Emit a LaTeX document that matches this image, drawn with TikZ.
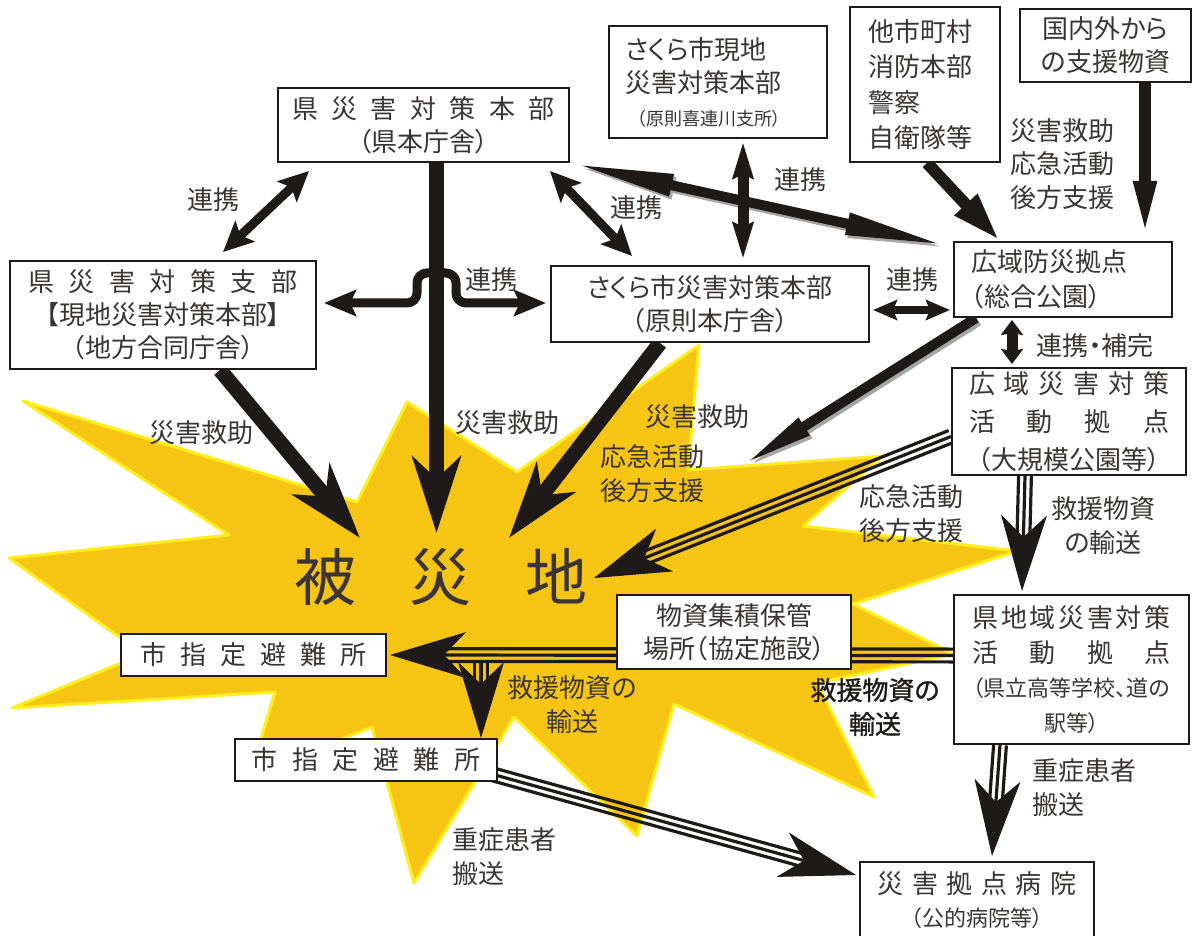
\documentclass[tikz,border=0pt]{standalone}
\usepackage{fontspec}
\setmainfont{Noto Sans CJK JP}[RawFeature=+palt]
\newfontfamily\heavyjp{Noto Sans CJK JP}[RawFeature=+palt,FakeBold=1.2]
\usetikzlibrary{arrows.meta}
\usetikzlibrary{calc}
\definecolor{burst}{RGB}{246,197,20}
\definecolor{burstrim}{RGB}{255,238,30}
\definecolor{ink}{RGB}{30,26,26}
\definecolor{letter}{RGB}{58,52,52}
\pgfdeclarelayer{burstlayer}
\pgfdeclarelayer{linelayer}
\pgfsetlayers{burstlayer,linelayer,main}

% three thin strokes and one head
\newcommand{\tripleto}[2]{%
  \draw[tri line] ($(#1)!3.2pt!90:(#2)$) -- ($(#2)!3.2pt!-90:(#1)$);
  \draw[tri line] (#1) -- (#2);
  \draw[tri line] ($(#1)!3.2pt!-90:(#2)$) -- ($(#2)!3.2pt!90:(#1)$);
  \draw[tri head] ($(#2)!30pt!(#1)$) -- (#2);
}

\begin{document}
\begin{tikzpicture}[
    x=0.5pt, y=-0.5pt,
    box/.style={draw=ink, line width=1pt, fill=white, inner sep=0pt, align=center, text=letter,
                font=\fontsize{13pt}{16.5pt}\selectfont},
    lbl/.style={inner sep=0pt, align=center, text=letter, font=\fontsize{13pt}{17pt}\selectfont},
    big arrow/.style={draw=ink, line width=7.5pt, -{Stealth[length=38pt,width=24pt,inset=11pt]}},
    link/.style={draw=ink, line width=4.5pt,
                 {Stealth[length=15pt,width=14pt,inset=3pt]}-{Stealth[length=15pt,width=14pt,inset=3pt]}},
    tri line/.style={draw=ink, line width=1.6pt, shorten >=18pt},
    tri head/.style={draw=ink, line width=0.5pt, -{Stealth[length=38pt,width=23pt,inset=11pt]}},
    slim/.style={draw=ink, line width=5pt, {Triangle[length=52pt,width=10pt]}-{Triangle[length=52pt,width=10pt]}},
    drop/.style={draw=black!35, transform canvas={xshift=1.2pt,yshift=-1.5pt}}
  ]
\useasboundingbox (0,0) rectangle (1194,936);

% boxes
\node[box, minimum width=145.5pt, minimum height=37pt] (honbu) at (423.5,125)
  {\makebox[131.5pt]{県\hfill 災\hfill 害\hfill 対\hfill 策\hfill 本\hfill 部}\\（県本庁舎）};
\node[box, minimum width=153pt, minimum height=54pt] (shibu) at (163,315)
  {\makebox[134.5pt]{県\hfill 災\hfill 害\hfill 対\hfill 策\hfill 支\hfill 部}\\【現地災害対策本部】\\（地方合同庁舎）};
\node[box, minimum width=159pt, minimum height=38pt] (sakura) at (710,304)
  {さくら市災害対策本部\\（原則本庁舎）};
\node[box, minimum width=109pt, minimum height=56pt, text width=93pt, align=left] (genchi) at (718,82)
  {さくら市現地\\災害対策本部\\{\fontsize{9pt}{11pt}\selectfont\hspace{6pt}（原則喜連川支所）}};
\node[box, minimum width=75pt, minimum height=77.5pt, text width=57pt, align=left,
      font=\fontsize{13pt}{17.8pt}\selectfont] (tashi) at (925,84.5)
  {他市町村\\消防本部\\警察\\自衛隊等};
\node[box, minimum width=85.5pt, minimum height=36.5pt] (kokunai) at (1105.5,45.5)
  {国内外から\\の支援物資};
\node[box, minimum width=109pt, minimum height=37.5pt, text width=92pt, align=left,
      font=\fontsize{13pt}{17.5pt}\selectfont] (koiki) at (1063,279.5)
  {広域防災拠点\\（総合公園）};
\node[box, minimum width=117pt, minimum height=53.5pt, font=\fontsize{13pt}{19pt}\selectfont] (ksaigai) at (1069,421.5)
  {\makebox[100pt]{広\hfill 域\hfill 災\hfill 害\hfill 対\hfill 策}\\
   \makebox[100pt]{活\hfill 動\hfill 拠\hfill 点}\\（大規模公園等）};
\node[box, minimum width=117.5pt, minimum height=74.5pt, font=\fontsize{13pt}{17.3pt}\selectfont] (kenchi) at (1071.5,669.5)
  {\makebox[99pt]{県\hfill 地\hfill 域\hfill 災\hfill 害\hfill 対\hfill 策}\\
   \makebox[99pt]{活\hfill 動\hfill 拠\hfill 点}\\
   {\fontsize{11pt}{17.3pt}\selectfont （県立高等学校、道の}\\
   {\fontsize{11pt}{17.3pt}\selectfont 駅等）}};
\node[box, minimum width=117pt, minimum height=37pt] (busshi) at (734,632)
  {物資集積保管\\場所（協定施設）};
\node[box, minimum width=132.5pt, minimum height=21pt] (hinan1) at (253.5,655)
  {\makebox[113.5pt]{市\hfill 指\hfill 定\hfill 避\hfill 難\hfill 所}};
\node[box, minimum width=131pt, minimum height=21pt] (hinan2) at (366,760)
  {\makebox[114.5pt]{市\hfill 指\hfill 定\hfill 避\hfill 難\hfill 所}};
\node[box, minimum width=117pt, minimum height=38pt] (byoin) at (977,900)
  {\makebox[99.5pt]{災\hfill 害\hfill 拠\hfill 点\hfill 病\hfill 院}\\{\fontsize{11pt}{16.5pt}\selectfont （公的病院等）}};

% the stricken area
\node[inner sep=0pt, text=letter, font=\fontsize{31pt}{31pt}\selectfont] (hisai) at (441,577)
  {\makebox[147pt]{被\hfill 災\hfill 地}};

% labels
\node[lbl] (lk1) at (213,200) {連携};
\node[lbl] (lk2) at (491,280) {連携};
\node[lbl] (lk3) at (636,208) {連携};
\node[lbl] (lk4) at (800,180) {連携};
\node[lbl] (lk5) at (912,280) {連携};
\node[lbl] (lk6) at (1095,346) {連携・補完};
\node[lbl, font=\fontsize{13pt}{16.8pt}\selectfont] (sup1) at (1062,164) {災害救助\\応急活動\\後方支援};
\node[lbl] (rs1) at (201,433) {災害救助};
\node[lbl] (rs2) at (507,423) {災害救助};
\node[lbl] (rs3) at (697,417) {災害救助};
\node[lbl] (sup2) at (652,474) {応急活動\\後方支援};
\node[lbl] (sup3) at (911,514) {応急活動\\後方支援};
\node[lbl] (tr1) at (1103,526) {救援物資\\の輸送};
\node[lbl, text=ink, font=\heavyjp\fontsize{13pt}{17pt}\selectfont] (tr2) at (875,707) {救援物資の\\輸送};
\node[lbl] (tr3) at (572,705) {救援物資の\\輸送};
\node[lbl, anchor=west, align=left] (pt1) at (1032,788) {重症患者\\搬送};
\node[lbl, anchor=west, align=left] (pt2) at (452,857) {重症患者\\搬送};

% free ends inside the area
\coordinate (hitA) at (360,538);
\coordinate (hitB) at (436.5,533);
\coordinate (hitC) at (509,538);
\coordinate (hitD) at (740,467);
\coordinate (hitE) at (594,578);
\coordinate (fork) at (481,662);

\coordinate (s1) at ([shift={(0,15)}]ksaigai.west);
\coordinate (s2) at ([shift={(-44,0)}]ksaigai.south);
\coordinate (e2) at ([shift={(-49.5,-3)}]kenchi.north);
\coordinate (s3) at ([shift={(-71.5,0)}]kenchi.south);
\coordinate (e3) at ([shift={(15,-5)}]byoin.north);
\coordinate (s4) at ([shift={(0,-14)}]kenchi.west);
\coordinate (e4) at ([shift={(3,0)}]hinan1.east);
\coordinate (e5) at ([shift={(115,0)}]hinan2.north);
\coordinate (s6) at ([shift={(-10,-9)}]hinan2.south east);
\coordinate (e6) at ([shift={(-3,-25)}]byoin.west);

\begin{pgfonlayer}{burstlayer}
\filldraw[fill=burst, draw=burstrim, line width=1.5pt, line join=round]
  (23,401) -- (357,502) -- (407,402) -- (517,472) -- (699,345) -- (688,470)
  -- (883,456) -- (803,526) -- (1017,551) -- (853,604) -- (953,654) -- (817,683)
  -- (874,797) -- (674,704) -- (637,836) -- (514,717) -- (414,883) -- (372,727)
  -- (250,775) -- (275,692) -- (12,708) -- (143,654) -- (9,558) -- (229,535) -- cycle;
\end{pgfonlayer}

\begin{pgfonlayer}{linelayer}
% relief into the area
\draw[big arrow] ([shift={(57,0)}]shibu.south) -- (hitA);
\draw[big arrow] ([shift={(13,0)}]honbu.south) -- (hitB);
\draw[big arrow] ([shift={(-50,0)}]sakura.south) -- (hitC);
%
\draw[drop, line width=5pt, -{Triangle[length=38pt,width=9pt]}] ([shift={(23,0)}]koiki.south west) -- (hitD);
\draw[draw=ink, line width=5pt, -{Triangle[length=38pt,width=9pt]}] ([shift={(23,0)}]koiki.south west) -- (hitD);
\draw[slim, drop] (honbu.south east) -- ([shift={(-4,5)}]koiki.north west);
\draw[slim] (honbu.south east) -- ([shift={(-4,5)}]koiki.north west);
\draw[draw=ink, line width=6pt, -{Triangle[length=25pt,width=14pt]}] ([shift={(2,0)}]tashi.south) -- ([shift={(-63,0)}]koiki.north);
\draw[draw=ink, line width=6pt, -{Triangle[length=30pt,width=10pt]}] ([shift={(39.5,0)}]kokunai.south) -- ([shift={(82,0)}]koiki.north);
%
\draw[link] ([shift={(32,8)}]honbu.south west) -- ([shift={(60,-8)}]shibu.north);
\draw[link] ([shift={(-20,8)}]honbu.south east) -- ([shift={(-78,-9)}]sakura.north);
\draw[link, rounded corners=5pt, {Stealth[length=16pt,width=13pt,inset=3pt]}-{Stealth[length=16pt,width=13pt,inset=3pt]}]
  ([shift={(7,-12)}]shibu.east) -- ++(93,0) -- ++(0,-30) -- ++(39,0) |- ([shift={(-4,-1)}]sakura.west);
\draw[link, line width=5.5pt, {Stealth[length=18pt,width=10pt,inset=2pt]}-{Stealth[length=18pt,width=10pt,inset=2pt]}]
  ([shift={(25,3)}]genchi.south) -- ([shift={(33,-6)}]sakura.north);
\draw[link, line width=4pt, {Stealth[length=12pt,width=10pt,inset=2pt]}-{Stealth[length=12pt,width=10pt,inset=2pt]}]
  ([shift={(3,6)}]sakura.east) -- ([shift={(-3,30.5)}]koiki.west);
\draw[link, line width=5.5pt, {Stealth[length=7.5pt,width=11pt,inset=1pt]}-{Stealth[length=7.5pt,width=11pt,inset=1pt]}]
  ([shift={(-51,2)}]koiki.south) -- ([shift={(-57,-3)}]ksaigai.north);
% supplies and patients
\tripleto{s1}{hitE}
\tripleto{s2}{e2}
\tripleto{s3}{e3}
\tripleto{s4}{e4}
\tripleto{fork}{e5}
\tripleto{s6}{e6}
\end{pgfonlayer}
\end{tikzpicture}
\end{document}
